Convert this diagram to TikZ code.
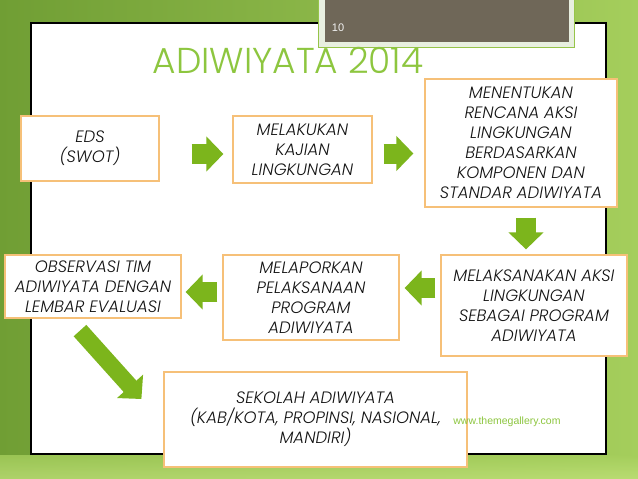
\documentclass[tikz,border=0pt]{standalone}
\usepackage{fontspec}
\newfontfamily\boxfont{Poppins Light}[ItalicFont={Poppins Light Italic}]
\newfontfamily\smallfont{Liberation Sans}
\usetikzlibrary{arrows.meta}
\definecolor{bgleft}{RGB}{112,158,52}
\definecolor{bgright}{RGB}{165,206,92}
\definecolor{bgbottom}{RGB}{190,224,120}
\definecolor{panelgray}{RGB}{111,103,88}
\definecolor{tabedge}{RGB}{232,239,224}
\definecolor{titlegreen}{RGB}{141,198,63}
\definecolor{boxorange}{RGB}{246,192,120}
\definecolor{arrgreen}{RGB}{124,181,28}
\definecolor{txtgray}{RGB}{20,20,20}
\begin{document}
\begin{tikzpicture}[x=1pt,y=-1pt,
  box/.style={rectangle, draw=boxorange, line width=1.2pt, fill=white, align=center, inner sep=0pt,
    font=\boxfont\itshape\fontsize{16.5}{20}\selectfont, text=txtgray},
  blockarr/.style={draw=arrgreen, line width=20pt, -{Triangle[length=17pt,width=34pt]}}]
\useasboundingbox (0,0) rectangle (638,479);
\shade[left color=bgleft, right color=bgright] (0,0) rectangle (638,479);
\shade[top color=bgright, bottom color=bgbottom, opacity=0.8] (0,455) rectangle (638,479);
\draw[line width=1.5pt, fill=white] (31,23) rectangle (606,454);
\filldraw[fill=tabedge, draw=arrgreen!80, line width=0.6pt] (318,-2) rectangle (574,47);
\fill[panelgray] (325,-2) rectangle (569,42);
\node[font=\smallfont\fontsize{11}{12}\selectfont, text=white!90!gray] (pagenum) at (338,28) {10};
\node[font=\boxfont\fontsize{36}{40}\selectfont, text=titlegreen] (title) at (288,60) {ADIWIYATA 2014};

\node[box, minimum width=138pt, minimum height=65pt] (eds) at (90,148.5) {EDS\\(SWOT)};
\node[box, minimum width=139pt, minimum height=67pt] (kajian) at (302.5,149.5) {MELAKUKAN\\KAJIAN\\LINGKUNGAN};
\node[box, minimum width=192pt, minimum height=128pt] (rencana) at (521,143)
  {MENENTUKAN\\RENCANA AKSI\\LINGKUNGAN\\BERDASARKAN\\KOMPONEN DAN\\STANDAR ADIWIYATA};
\node[box, minimum width=186pt, minimum height=101pt] (aksi) at (534,305.5)
  {MELAKSANAKAN AKSI\\LINGKUNGAN\\SEBAGAI PROGRAM\\ADIWIYATA};
\node[box, minimum width=176pt, minimum height=85pt] (lapor) at (311,297.5)
  {MELAPORKAN\\PELAKSANAAN\\PROGRAM\\ADIWIYATA};
\node[box, minimum width=176pt, minimum height=63pt] (observasi) at (93,286.5)
  {OBSERVASI TIM\\ADIWIYATA DENGAN\\LEMBAR EVALUASI};
\node[box, minimum width=303pt, minimum height=95pt] (sekolah) at (315.5,419.5)
  {SEKOLAH ADIWIYATA\\(KAB/KOTA, PROPINSI, NASIONAL,\\MANDIRI)};
\node[font=\smallfont\fontsize{10.5}{12}\selectfont, text=titlegreen] (web) at (507,422) {www.themegallery.com};

\draw[blockarr, shorten <=32pt, shorten >=9pt] ([yshift=-5.5pt]eds.east) -- ([yshift=-5.5pt]eds.east -| kajian.west);
\draw[blockarr, shorten <=11pt, shorten >=11pt] ([yshift=-4pt]kajian.east) -- ([yshift=-4pt]kajian.east -| rencana.west);
\draw[blockarr, shorten <=10pt, shorten >=5pt] ([xshift=5pt]rencana.south) -- ([xshift=5pt]rencana.south |- aksi.north);
\draw[blockarr, shorten <=5pt, shorten >=5pt] ([yshift=17.5pt]aksi.west) -- ([yshift=17.5pt]aksi.west -| lapor.east);
\draw[blockarr, shorten <=5pt, shorten >=4pt] ([yshift=5.5pt]lapor.west) -- ([yshift=5.5pt]lapor.west -| observasi.east);
\draw[blockarr, line width=17pt] ([xshift=-13pt,yshift=-12pt]observasi.south) -- ([xshift=-22pt,yshift=20.5pt]sekolah.west);
\end{tikzpicture}
\end{document}
